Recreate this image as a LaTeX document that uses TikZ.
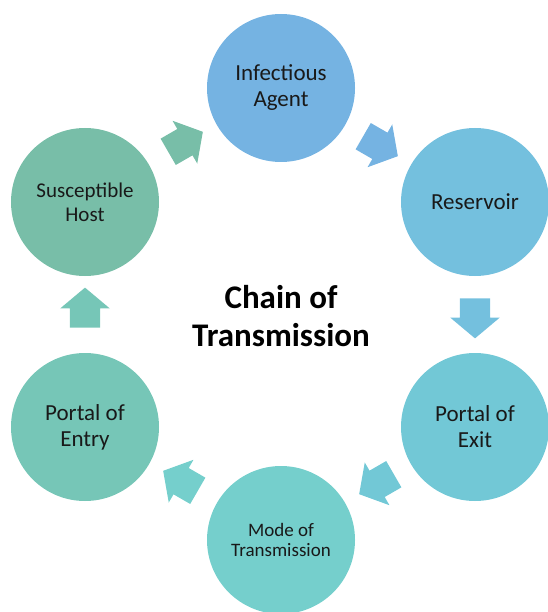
\documentclass[tikz,border=0pt]{standalone}
\usepackage{fontspec}
\setmainfont{Carlito}
\usetikzlibrary{shapes.arrows}
\definecolor{cIA}{RGB}{117,179,226}
\definecolor{cRes}{RGB}{116,192,222}
\definecolor{cExit}{RGB}{114,200,214}
\definecolor{cMode}{RGB}{117,207,204}
\definecolor{cEntry}{RGB}{118,198,183}
\definecolor{cHost}{RGB}{120,190,168}
\tikzset{
  stage/.style={circle, minimum size=148pt, inner sep=0pt, align=center, text=black!90},
  blockarrow/.style={single arrow, minimum height=40pt, inner xsep=0pt, inner ysep=15pt,
    single arrow head extend=9.5pt, single arrow tip angle=100, draw=none}
}
\begin{document}
\begin{tikzpicture}[x=1pt,y=-1pt]
\useasboundingbox (0,0) rectangle (547,612);
\node[stage, fill=cIA, font=\fontsize{23}{26}\selectfont] (ia) at (281,88) {Infectious\\Agent};
\node[stage, fill=cRes, font=\fontsize{23}{26}\selectfont] (res) at (475,202) {Reservoir};
\node[stage, fill=cExit, font=\fontsize{23}{26}\selectfont] (exit) at (475,427) {Portal of\\Exit};
\node[stage, fill=cMode, font=\fontsize{19}{20}\selectfont] (mode) at (281,540) {Mode of\\Transmission};
\node[stage, fill=cEntry, font=\fontsize{23}{26}\selectfont] (entry) at (85,427) {Portal of\\Entry};
\node[stage, fill=cHost, font=\fontsize{21}{24}\selectfont] (host) at (85,202) {Susceptible\\Host};
\node[font=\bfseries\fontsize{33}{38}\selectfont, align=center] (title) at (281,316) {Chain of\\Transmission};
\node[blockarrow, fill=cHost, rotate=30] (a1) at (180,145) {};
\node[blockarrow, fill=cIA, rotate=-30] (a2) at (375,143) {};
\node[blockarrow, fill=cRes, rotate=-90] (a3) at (475,312) {};
\node[blockarrow, fill=cExit, rotate=-150] (a4) at (382,481) {};
\node[blockarrow, fill=cMode, rotate=150] (a5) at (186,484) {};
\node[blockarrow, fill=cEntry, rotate=90] (a6) at (85,314) {};
\end{tikzpicture}
\end{document}
